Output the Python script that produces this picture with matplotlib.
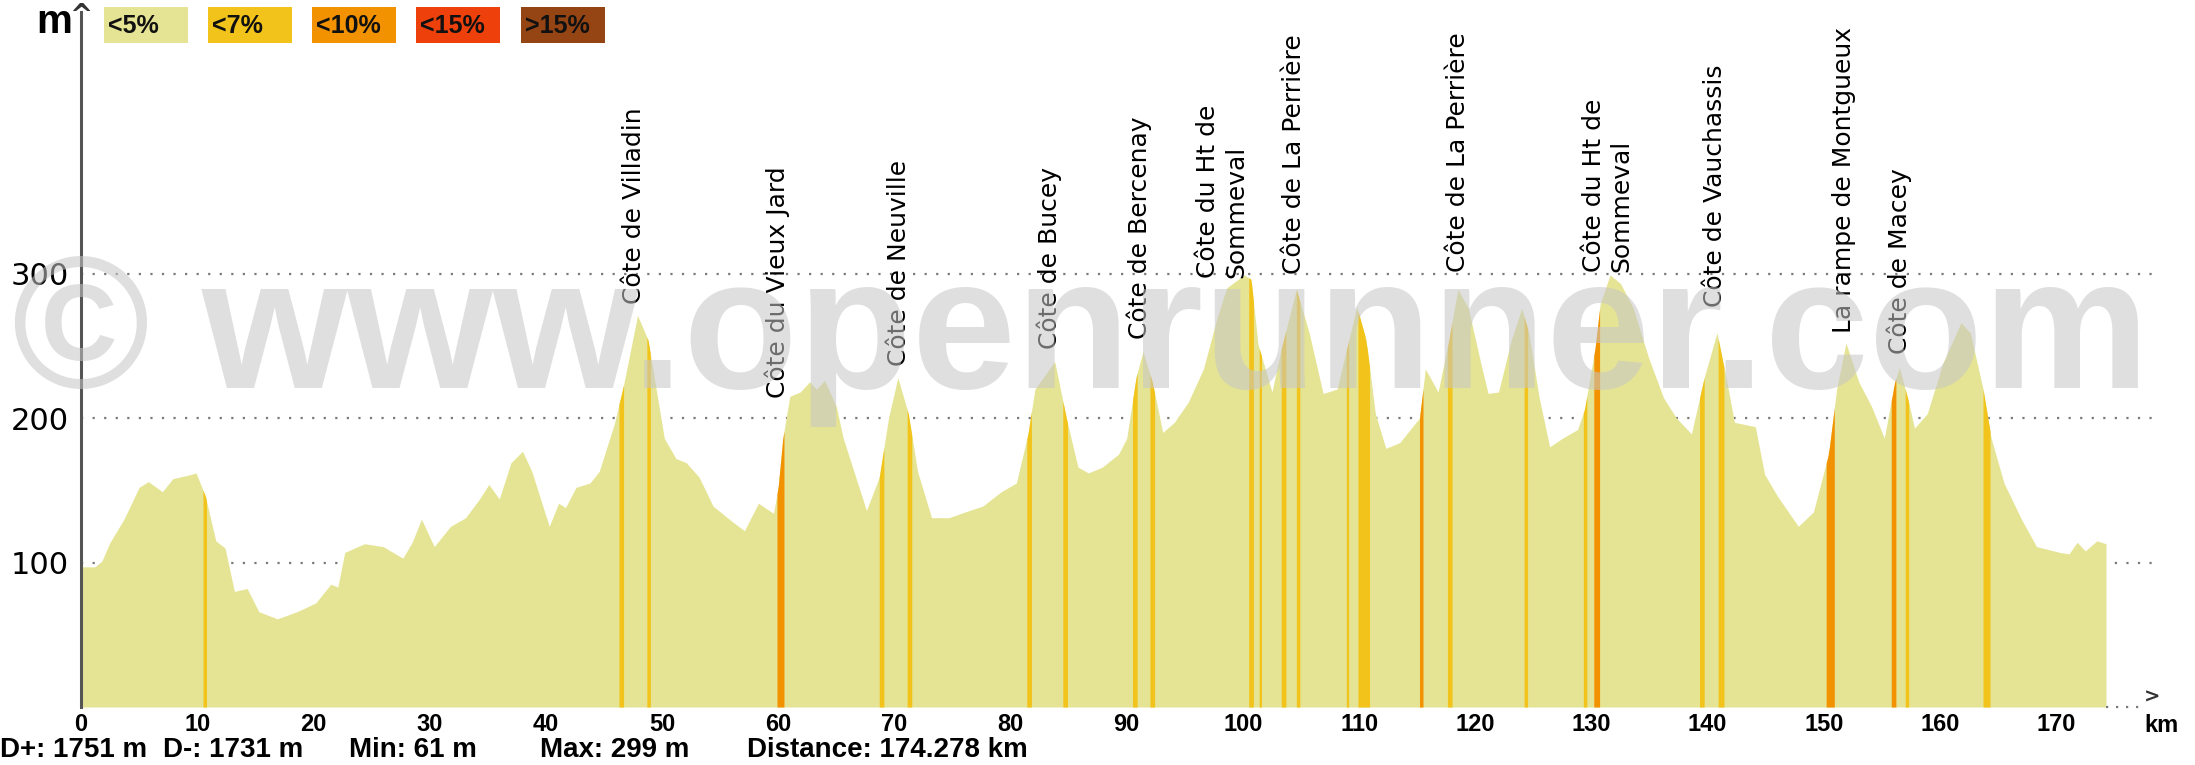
import matplotlib
matplotlib.use('Agg')
import matplotlib.pyplot as plt
import numpy as np

# ---------------- data ----------------
km = [0.0, 1.2, 1.8, 2.5, 3.7, 5.0, 5.8, 7.0, 7.9, 9.5, 9.9, 10.7, 11.6, 12.4, 13.2, 14.3,
      15.3, 16.9, 18.6, 20.2, 21.5, 22.1, 22.7, 24.4, 26.0, 27.7, 28.5, 29.3, 30.4, 31.8,
      33.1, 34.3, 35.1, 36.0, 37.0, 38.0, 38.8, 40.3, 41.1, 41.7, 42.6, 43.8, 44.6, 45.9,
      46.7, 47.9, 48.8, 50.2, 51.2, 52.1, 53.2, 54.4, 56.1, 57.1, 58.3, 59.6, 60.0, 60.4,
      61.0, 61.9, 62.7, 63.3, 64.0, 65.0, 65.6, 66.6, 67.6, 68.7, 69.5, 70.3, 71.2, 72.0,
      73.2, 74.7, 76.1, 77.6, 79.2, 80.5, 81.5, 82.1, 83.8, 84.8, 85.8, 86.7, 87.9, 89.3,
      90.0, 90.8, 91.4, 92.2, 93.1, 94.1, 95.3, 96.6, 97.8, 98.6, 100.1, 100.7, 101.3,
      102.5, 103.3, 104.6, 105.7, 106.9, 108.1, 109.8, 110.6, 111.4, 112.3, 113.5, 115.2,
      115.7, 116.8, 117.65, 118.5, 119.4, 120.5, 121.1, 122.0, 123.1, 124.0, 124.6, 125.5,
      126.4, 127.5, 128.8, 129.4, 130.3, 130.75, 131.6, 132.5, 133.6, 134.9, 136.2, 137.3,
      138.6, 139.7, 140.8, 141.7, 142.3, 144.1, 144.9, 146.0, 147.8, 149.1, 150.4, 151.1,
      151.9, 153.0, 154.1, 155.2, 156.1, 156.5, 157.2, 157.8, 158.9, 160.2, 161.8, 162.6,
      163.7, 164.4, 165.5, 167.0, 168.3, 170.3, 171.1, 171.8, 172.5, 173.5, 174.278]
elev = [97, 97, 101, 114, 130, 152, 156, 149, 158, 161, 162, 146, 115, 110, 80, 82,
        66, 61, 66, 72, 85, 83, 107, 113, 111, 103, 114, 130, 111, 125,
        131, 144, 154, 144, 169, 177, 163, 125, 141, 138, 152, 155, 163, 196,
        223, 271, 254, 186, 172, 169, 159, 139, 128, 122, 141, 134, 152, 186,
        215, 218, 225, 220, 226, 208, 186, 161, 136, 159, 200, 228, 203, 163,
        131, 131, 135, 139, 149, 155, 189, 220, 239, 200, 166, 162, 166, 175,
        186, 228, 246, 225, 190, 197, 211, 234, 270, 290, 299, 296, 251,
        218, 248, 289, 259, 217, 220, 277, 254, 203, 179, 183, 200,
        234, 218, 251, 289, 276, 237, 217, 218, 254, 276, 259, 214,
        180, 186, 192, 206, 248, 279, 299, 293, 276, 242, 214, 200,
        189, 228, 259, 223, 197, 194, 161, 146, 125, 135, 175, 220,
        252, 225, 208, 186, 225, 235, 214, 193, 203, 237, 266, 259,
        220, 186, 155, 130, 111, 107, 106, 114, 108, 115, 113]

# steep sections: start km, end km, gradient class (1: <7%, 2: <10%)
steep_start = [10.5, 46.3, 48.7, 59.9, 68.7, 71.1, 81.4, 84.5, 90.5, 92.0, 100.5, 101.4,
               103.3, 104.6, 108.9, 109.9, 115.2, 117.6, 124.2, 129.3, 130.2, 139.3,
               140.9, 150.2, 155.8, 157.0, 163.7]
steep_end = [10.8, 46.7, 49.0, 60.5, 69.1, 71.5, 81.8, 84.9, 90.9, 92.4, 100.9, 101.6,
             103.7, 104.9, 109.1, 110.9, 115.5, 118.0, 124.5, 129.6, 130.7, 139.7,
             141.4, 150.9, 156.2, 157.3, 164.3]
steep_class = [1, 1, 1, 2, 1, 1, 1, 1, 1, 1, 1, 1,
               1, 1, 1, 1, 2, 1, 1, 1, 2, 1,
               1, 2, 2, 1, 1]

climb_names = ["Côte de Villadin", "Côte du Vieux Jard", "Côte de Neuville", "Côte de Bucey",
               "Côte de Bercenay", "Côte du Ht de\nSommeval", "Côte de La Perrière",
               "Côte de La Perrière", "Côte du Ht de\nSommeval", "Côte de Vauchassis",
               "La rampe de Montgueux", "Côte de Macey"]
climb_km = [47.6, 59.9, 70.4, 83.3, 91.1, 98.2, 104.4, 118.5, 131.4, 140.6, 151.7, 156.5]
climb_top_m = [279, 214, 236, 248, 255, 297, 300, 301, 301, 277, 259, 244]

x_ticks = list(range(0, 171, 10))
y_ticks = [100, 200, 300]

legend_labels = ["<5%", "<7%", "<10%", "<15%", ">15%"]
grade_colors = ["#e5e494", "#f2c31a", "#f39200", "#ee400b", "#954514"]

stats = ["D+: 1751 m", "D-: 1731 m", "Min: 61 m", "Max: 299 m", "Distance: 174.278 km"]

# ---------------- figure ----------------
W, H = 2195, 765
fig = plt.figure(figsize=(W / 100, H / 100), dpi=100)


def fx(px):
    return px / W


def fy(py):
    return 1 - py / H


AX_L, AX_R, AX_B, AX_T = 81, 2155, 707, 12
ax = fig.add_axes([fx(AX_L), fy(AX_B), (AX_R - AX_L) / W, (AX_B - AX_T) / H])
ax.set_xlim(0, 178.5)
ax.set_ylim(0, (AX_B - AX_T) / 1.445)

for s in ['top', 'right', 'bottom']:
    ax.spines[s].set_visible(False)
ax.spines['left'].set_color('#555555')
ax.spines['left'].set_linewidth(2.2)
ax.spines['left'].set_zorder(6)

# grid lines
for yv in y_ticks:
    ax.axhline(yv, color='#7a7a7a', linewidth=1.6, dashes=(1, 4.2), zorder=1)

# profile
ax.fill_between(km, elev, 0, color=grade_colors[0], linewidth=0, zorder=2)

# steep stripes
for s, e, c in zip(steep_start, steep_end, steep_class):
    xs = np.linspace(s, e, 6)
    ys = np.interp(xs, km, elev)
    ax.fill_between(xs, ys, 0, color=grade_colors[c], linewidth=0, zorder=3)

# climb labels
for name, k, m in zip(climb_names, climb_km, climb_top_m):
    ax.text(k, m, name, rotation=90, ha='center', va='bottom', multialignment='left',
            fontsize=18, family='DejaVu Sans', color='black', zorder=7)

# ticks
tickfont = dict(family='Liberation Sans', weight='bold', size=17)
ax.set_xticks(x_ticks)
ax.set_xticklabels([str(t) for t in x_ticks], fontdict=tickfont)
ax.set_yticks(y_ticks)
ax.set_yticklabels([str(t) for t in y_ticks], family='DejaVu Sans', fontsize=22)
ax.tick_params(axis='x', length=0, pad=4)
ax.tick_params(axis='y', length=0, pad=9)

# x-axis extension beyond the profile end
ax.plot([km[-1], 177.2], [0, 0], color='#7a7a7a', linewidth=1.6, dashes=(1, 3.5),
        clip_on=False, zorder=6)
fig.text(fx(2152), fy(697), '>', ha='center', va='center', fontsize=14,
         family='DejaVu Sans', weight='bold', color='#333333')
fig.text(fx(2162), fy(725), 'km', ha='center', va='center', fontsize=17,
         family='Liberation Sans', weight='bold', color='black')

# y-axis caret and unit
fig.text(fx(AX_L), fy(2), '^', ha='center', va='top', fontsize=20,
         family='DejaVu Sans', weight='bold', color='#333333')
fig.text(fx(36), fy(33), 'm', ha='left', va='baseline', fontsize=29,
         family='Liberation Sans', weight='bold', color='black')

# legend boxes
box_left = [104, 208, 312, 416, 521]
for bl, lab, col in zip(box_left, legend_labels, grade_colors):
    fig.patches.append(plt.Rectangle((fx(bl), fy(43)), 84 / W, 36 / H, transform=fig.transFigure,
                                     facecolor=col, edgecolor='none'))
    fig.text(fx(bl + 4), fy(26), lab, ha='left', va='center', fontsize=18,
             family='Liberation Sans', weight='bold', color='#111111')

# footer statistics
stat_x = [0, 163, 349, 540, 747]
for sx, st in zip(stat_x, stats):
    fig.text(fx(sx), fy(757), st, ha='left', va='baseline', fontsize=20,
             family='Liberation Sans', weight='bold', color='black')

# watermark
wm = fig.text(fx(12), fy(388), '© www.openrunner.com', ha='left', va='baseline',
              fontsize=134, family='Liberation Sans', weight='bold', color='#c6c6c6',
              alpha=0.55, zorder=5)
fig.canvas.draw()
bb = wm.get_window_extent()
wm.set_fontsize(134 * (2149 - 12) / bb.width)

fig.savefig('out.png', dpi=100)
